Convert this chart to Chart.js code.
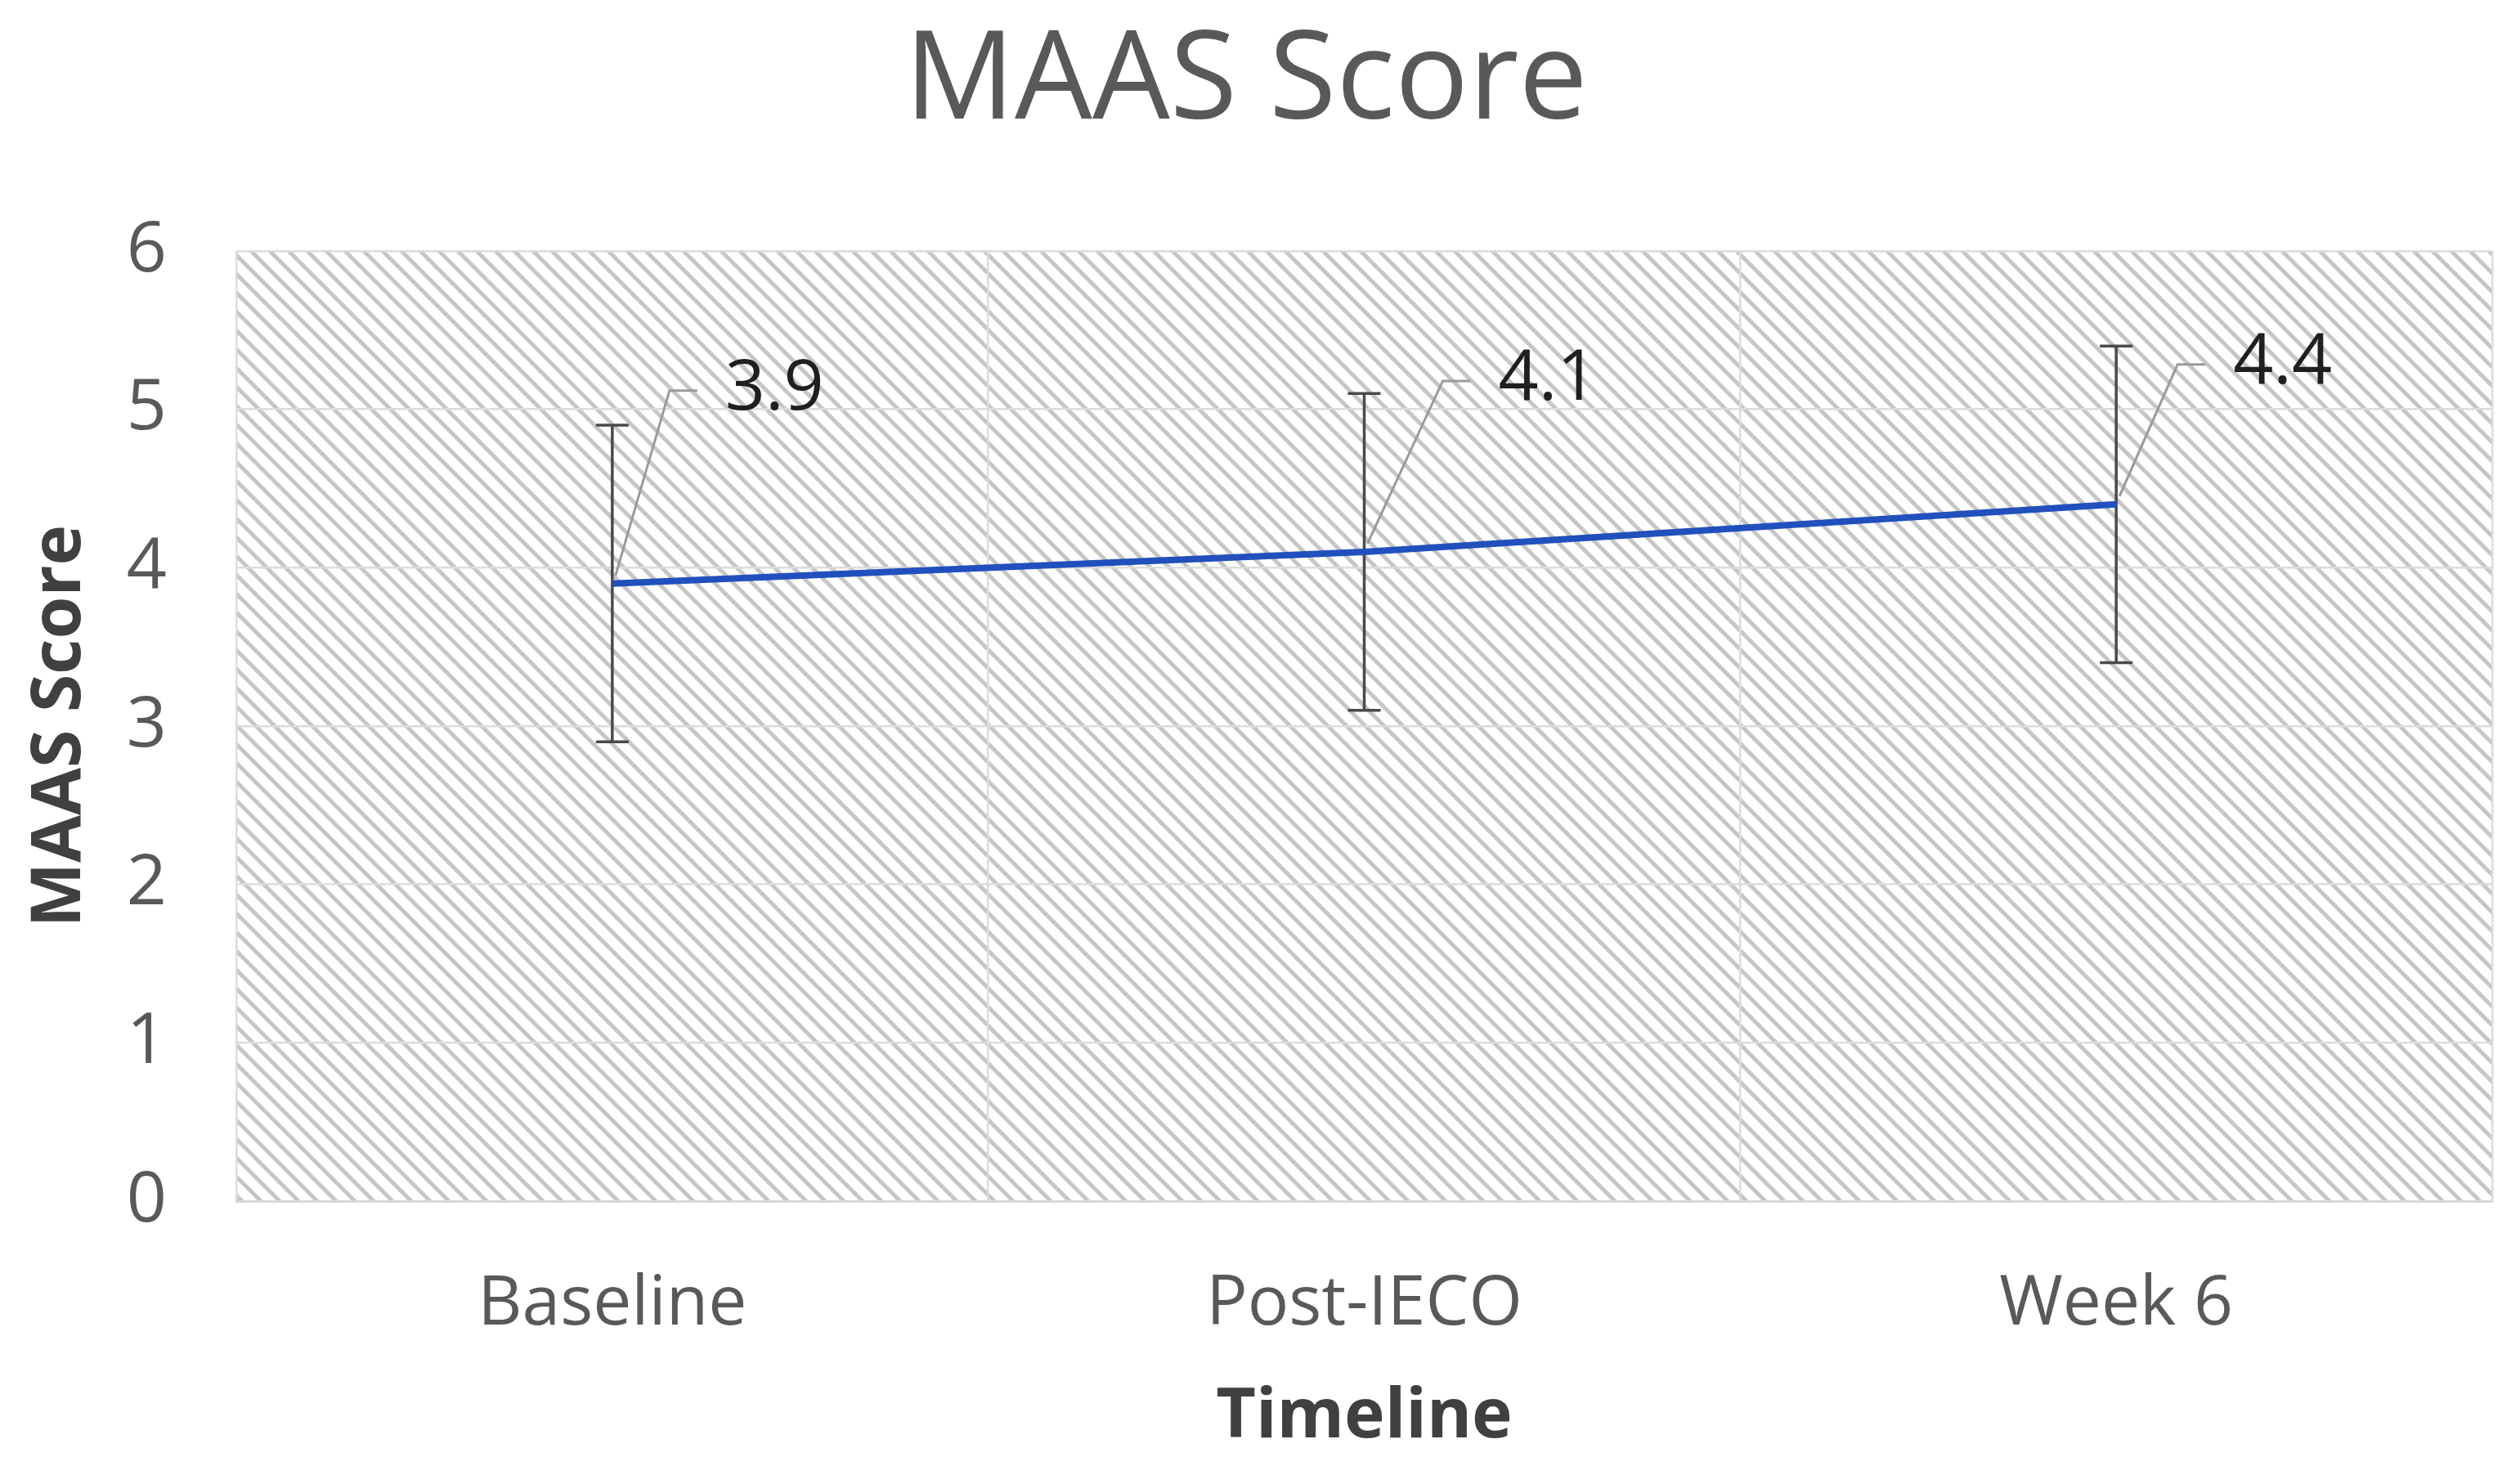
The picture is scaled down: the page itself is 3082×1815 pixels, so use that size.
<!DOCTYPE html>
<html>
<head>
<meta charset="utf-8">
<title>MAAS Score</title>
<script src="https://cdn.jsdelivr.net/npm/chart.js@4.4.1/dist/chart.umd.min.js"></script>
<style>
  html, body { margin: 0; padding: 0; background: #fff; }
  #chart { display: block; }
</style>
</head>
<body>
<canvas id="chart" width="3082" height="1815"></canvas>
<script>
// Data
const timeline = ['Baseline', 'Post-IECO', 'Week 6'];
const maasMeans = [3.9, 4.1, 4.4];
const maasErrors = [1.0, 1.0, 1.0];
const yTicks = [0, 1, 2, 3, 4, 5, 6];

const FONT = "'Open Sans', 'Noto Sans', sans-serif";
Chart.defaults.font.family = FONT;

// Diagonal hatch used as plot area fill
const makeHatch = (ctx) => {
  const size = 23;
  const tile = document.createElement('canvas');
  tile.width = size;
  tile.height = size;
  const t = tile.getContext('2d');
  t.fillStyle = '#ffffff';
  t.fillRect(0, 0, size, size);
  t.strokeStyle = '#c6c6c6';
  t.lineWidth = 5;
  for (let k = -1; k <= 1; k++) {
    t.beginPath();
    t.moveTo(k * size - 4, -4);
    t.lineTo(k * size + size + 4, size + 4);
    t.stroke();
  }
  return ctx.createPattern(tile, 'repeat');
};

const plotBackground = {
  id: 'plotBackground',
  beforeDraw(chart) {
    const { ctx, chartArea: a } = chart;
    ctx.save();
    ctx.fillStyle = '#ffffff';
    ctx.fillRect(0, 0, chart.width, chart.height);
    ctx.fillStyle = makeHatch(ctx);
    ctx.fillRect(a.left, a.top, a.right - a.left, a.bottom - a.top);
    ctx.restore();
  }
};

const errorBars = {
  id: 'errorBars',
  beforeDatasetsDraw(chart, args, opts) {
    const { ctx } = chart;
    const y = chart.scales.y;
    const meta = chart.getDatasetMeta(0);
    ctx.save();
    ctx.strokeStyle = opts.color;
    ctx.lineWidth = opts.width;
    meta.data.forEach((pt, i) => {
      const top = y.getPixelForValue(maasMeans[i] + maasErrors[i]);
      const bot = y.getPixelForValue(maasMeans[i] - maasErrors[i]);
      const half = opts.cap / 2;
      ctx.beginPath();
      ctx.moveTo(pt.x, top);
      ctx.lineTo(pt.x, bot);
      ctx.moveTo(pt.x - half, top);
      ctx.lineTo(pt.x + half, top);
      ctx.moveTo(pt.x - half, bot);
      ctx.lineTo(pt.x + half, bot);
      ctx.stroke();
    });
    ctx.restore();
  }
};

// Value labels with leader lines, as in the original
const leaderLabels = {
  id: 'leaderLabels',
  afterDatasetsDraw(chart, args, opts) {
    const { ctx } = chart;
    const meta = chart.getDatasetMeta(0);
    ctx.save();
    meta.data.forEach((pt, i) => {
      const off = opts.offsets[i];
      const tx = pt.x + off.dx;
      const ty = pt.y + off.dy;
      ctx.strokeStyle = opts.lineColor;
      ctx.lineWidth = opts.lineWidth;
      ctx.beginPath();
      ctx.moveTo(pt.x + 4, pt.y - 10);
      ctx.lineTo(tx - 68, ty + 1);
      ctx.lineTo(tx - 34, ty + 1);
      ctx.stroke();
      ctx.fillStyle = opts.color;
      ctx.font = opts.font;
      ctx.textAlign = 'left';
      ctx.textBaseline = 'middle';
      ctx.fillText(maasMeans[i].toFixed(1), tx, ty);
    });
    ctx.restore();
  }
};

new Chart(document.getElementById('chart'), {
  type: 'line',
  data: {
    labels: timeline,
    datasets: [{
      label: 'MAAS Score',
      data: maasMeans,
      borderColor: '#2150bd',
      borderWidth: 8,
      pointRadius: 0,
      fill: false,
      tension: 0
    }]
  },
  options: {
    responsive: false,
    animation: false,
    devicePixelRatio: 1,
    layout: { padding: { left: 0, right: 34, top: 0, bottom: 0 } },
    plugins: {
      legend: { display: false },
      tooltip: { enabled: false },
      title: {
        display: true,
        text: 'MAAS Score',
        color: '#595959',
        font: { size: 150, weight: 'normal', lineHeight: 1.2 },
        padding: { top: 12, bottom: 115 }
      },
      errorBars: { color: '#4a4a4a', width: 3.5, cap: 40 },
      leaderLabels: {
        offsets: [{ dx: 138, dy: -237 }, { dx: 164, dy: -210 }, { dx: 143, dy: -172 }],
        lineColor: '#9a9a9a',
        lineWidth: 3,
        color: '#1f1f1f',
        font: `86px ${FONT}`
      }
    },
    scales: {
      x: {
        offset: true,
        grid: { offset: true, color: '#dcdcdc', lineWidth: 2.5, drawTicks: false },
        border: { display: true, color: '#d9d9d9', width: 3 },
        ticks: { color: '#595959', font: { size: 84 }, padding: 77 },
        title: {
          display: true,
          text: 'Timeline',
          color: '#404040',
          font: { size: 84, weight: 'bold', lineHeight: 1.2 },
          padding: { top: 0, bottom: 31 }
        },
        afterFit: (s) => { s.height = 346; }
      },
      y: {
        min: 0,
        max: 6,
        afterBuildTicks: (s) => { s.ticks = yTicks.map(v => ({ value: v })); },
        grid: { color: '#dcdcdc', lineWidth: 2.5, drawTicks: false },
        border: { display: false },
        ticks: { color: '#595959', font: { size: 86 }, padding: 85 },
        title: {
          display: true,
          text: 'MAAS Score',
          color: '#404040',
          font: { size: 84, weight: 'bold', lineHeight: 1.2 },
          padding: { top: 24, bottom: 0 }
        },
        afterFit: (s) => { s.width = 289; }
      }
    }
  },
  plugins: [plotBackground, errorBars, leaderLabels]
});
</script>
</body>
</html>
